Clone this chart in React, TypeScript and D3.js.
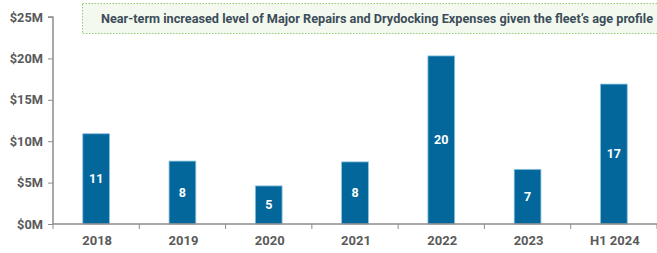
import React, { useEffect, useRef } from "react";
import * as d3 from "d3";

const categories = ["2018", "2019", "2020", "2021", "2022", "2023", "H1 2024"];
const values = [10.9, 7.6, 4.6, 7.5, 20.3, 6.6, 16.9];
const barLabels = ["11", "8", "5", "8", "20", "7", "17"];
const yTicks = [0, 5, 10, 15, 20, 25];
const title = "Near-term increased level of Major Repairs and Drydocking Expenses given the fleet\u2019s age profile";

export default function App() {
  const ref = useRef<SVGSVGElement>(null);
  useEffect(() => {
    const svg = d3.select(ref.current);
    svg.selectAll("*").remove();
    const W = 657, H = 253;
    const left = 53, right = 657, top = 17, bottom = 224;
    const x = d3.scaleBand().domain(categories).range([left, right]).paddingInner(0.69).paddingOuter(0.345);
    const y = d3.scaleLinear().domain([0, 25]).range([bottom, top]);
    const font = "Roboto, 'Noto Sans', sans-serif";

    // header box
    svg.append("rect").attr("x", 82.5).attr("y", 3.5).attr("width", 580).attr("height", 30)
      .attr("fill", "#f4f9ef").attr("stroke", "#8fcf6f").attr("stroke-width", 1).attr("stroke-dasharray", "1.5,1.5");
    const t = svg.append("text").attr("x", 101).attr("y", 23).attr("font-family", font).attr("font-weight", 700)
      .attr("font-size", 12.8).attr("fill", "#3c4d5a").text(title);
    const node = t.node() as SVGTextElement;
    const len = node.getComputedTextLength();
    if (len > 0) t.attr("textLength", 552).attr("lengthAdjust", "spacingAndGlyphs");

    // bars
    const g = svg.append("g");
    g.selectAll("rect.bar").data(values).join("rect")
      .attr("x", (_, i) => x(categories[i])!)
      .attr("y", d => y(d))
      .attr("width", x.bandwidth())
      .attr("height", d => bottom - y(d))
      .attr("fill", "#03679b").attr("stroke", "#8cc3e0").attr("stroke-width", 0.8);
    g.selectAll("text.lbl").data(values).join("text")
      .attr("x", (_, i) => x(categories[i])! + x.bandwidth() / 2)
      .attr("y", d => (y(d) + bottom) / 2)
      .attr("dy", "0.35em").attr("text-anchor", "middle")
      .attr("font-family", font).attr("font-weight", 700).attr("font-size", 12.5).attr("fill", "#ffffff")
      .text((_, i) => barLabels[i]);

    // y axis
    const ya = svg.append("g").attr("transform", `translate(${left},0)`)
      .call(d3.axisLeft(y).tickValues(yTicks).tickSize(5).tickPadding(5).tickFormat(d => `$${d}M`));
    ya.select(".domain").attr("stroke", "#8c8c8c").attr("stroke-width", 1.5).attr("d", `M-5,${top}H0V${bottom}`);
    ya.selectAll(".tick line").attr("stroke", "#8c8c8c");
    ya.selectAll("text").attr("font-family", font).attr("font-weight", 700).attr("font-size", 12.8).attr("fill", "#5a5a5a");

    // x axis
    const xa = svg.append("g").attr("transform", `translate(0,${bottom})`);
    xa.append("line").attr("x1", left).attr("x2", right).attr("stroke", "#8c8c8c").attr("stroke-width", 1.5);
    const bounds = categories.map((c, i) => left + i * (right - left) / categories.length).concat([right]);
    xa.selectAll("line.t").data(bounds).join("line").attr("x1", d => d).attr("x2", d => d).attr("y1", 0).attr("y2", 5).attr("stroke", "#8c8c8c");
    xa.selectAll("text").data(categories).join("text")
      .attr("x", d => x(d)! + x.bandwidth() / 2 + 1).attr("y", 21).attr("text-anchor", "middle")
      .attr("font-family", font).attr("font-weight", 700).attr("font-size", 13).attr("fill", "#5a5a5a")
      .text(d => d);
    svg.attr("width", W).attr("height", H);
  }, []);
  return <svg ref={ref} width={657} height={253} style={{ position: "absolute", left: 0, top: 0, background: "#fff" }} />;
}
